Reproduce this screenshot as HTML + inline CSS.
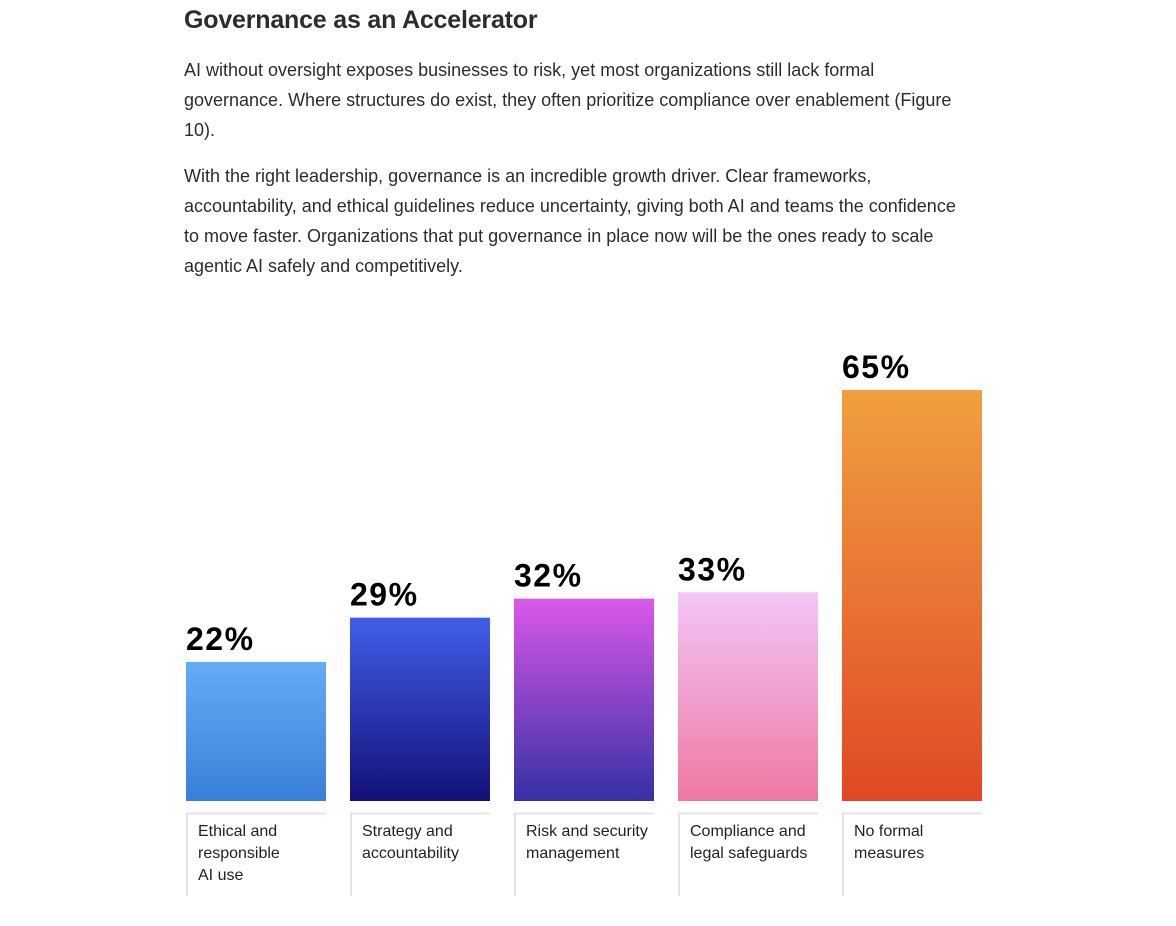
<!DOCTYPE html>
<html><head><meta charset="utf-8">
<style>
body{margin:0;background:#fff;width:1176px;height:926px;overflow:hidden;font-family:"Liberation Sans",sans-serif;color:#2c2c2c}
h1{position:absolute;left:184px;top:6px;margin:0;font-size:25px;font-weight:bold;letter-spacing:-0.2px}
p{position:absolute;left:184px;width:820px;margin:0;font-size:18px;line-height:30px;white-space:nowrap}
</style></head><body>
<h1>Governance as an Accelerator</h1>
<p style="top:55px">AI without oversight exposes businesses to risk, yet most organizations still lack formal<br>governance. Where structures do exist, they often prioritize compliance over enablement (Figure<br>10).</p>
<p style="top:161px">With the right leadership, governance is an incredible growth driver. Clear frameworks,<br>accountability, and ethical guidelines reduce uncertainty, giving both AI and teams the confidence<br>to move faster. Organizations that put governance in place now will be the ones ready to scale<br>agentic AI safely and competitively.</p>
<svg id="chart" width="1176" height="926" style="position:absolute;left:0;top:0">
<defs>
<linearGradient id="g0" x1="0" y1="0" x2="0" y2="1"><stop offset="0" stop-color="#64acf6"/><stop offset="1" stop-color="#3a7fd8"/></linearGradient>
<linearGradient id="g1" x1="0" y1="0" x2="0" y2="1"><stop offset="0" stop-color="#415ee9"/><stop offset="1" stop-color="#130f78"/></linearGradient>
<linearGradient id="g2" x1="0" y1="0" x2="0" y2="1"><stop offset="0" stop-color="#da58e9"/><stop offset="1" stop-color="#3630a6"/></linearGradient>
<linearGradient id="g3" x1="0" y1="0" x2="0" y2="1"><stop offset="0" stop-color="#f2c6f6"/><stop offset="1" stop-color="#ef78a3"/></linearGradient>
<linearGradient id="g4" x1="0" y1="0" x2="0" y2="1"><stop offset="0" stop-color="#f0a040"/><stop offset="1" stop-color="#e04826"/></linearGradient>
</defs>
</svg>
<script>
const categories=[["Ethical and","responsible","AI use"],["Strategy and","accountability"],["Risk and security","management"],["Compliance and","legal safeguards"],["No formal","measures"]];
const values=[22,29,32,33,65];
const svg=document.getElementById('chart');
const NS='http://www.w3.org/2000/svg';
const base=801, scale=411/65;
function y(v){return base-v*scale;}
function x(i){return 186+i*164;}
values.forEach((v,i)=>{
  const r=document.createElementNS(NS,'rect');
  r.setAttribute('x',x(i));r.setAttribute('y',y(v));r.setAttribute('width',140);r.setAttribute('height',base-y(v));r.setAttribute('fill','url(#g'+i+')');
  
  
  svg.appendChild(r);
  const t=document.createElementNS(NS,'text');
  t.setAttribute('x',x(i));t.setAttribute('y',y(v)-12);t.setAttribute('font-size','32');t.setAttribute('font-weight','bold');t.setAttribute('letter-spacing','1.5');t.setAttribute('fill','#000');t.setAttribute('font-family','Liberation Sans, sans-serif');
  t.textContent=v+'%';
  
  
  svg.appendChild(t);
  const b=document.createElementNS(NS,'path');
  b.setAttribute('d','M'+(x(i)+1)+' 896 V813.5 H'+(x(i)+140));b.setAttribute('stroke','#e4e4e4');b.setAttribute('stroke-width','2');b.setAttribute('fill','none');
  
  
  svg.appendChild(b);
  categories[i].forEach((line,j)=>{
    const c=document.createElementNS(NS,'text');
    c.setAttribute('x',x(i)+12);c.setAttribute('y',836+j*22);c.setAttribute('font-size','16');c.setAttribute('fill','#222');c.setAttribute('font-family','Liberation Sans, sans-serif');
    c.textContent=line;
    
    
    svg.appendChild(c);
  });
});
</script>
</body></html>
